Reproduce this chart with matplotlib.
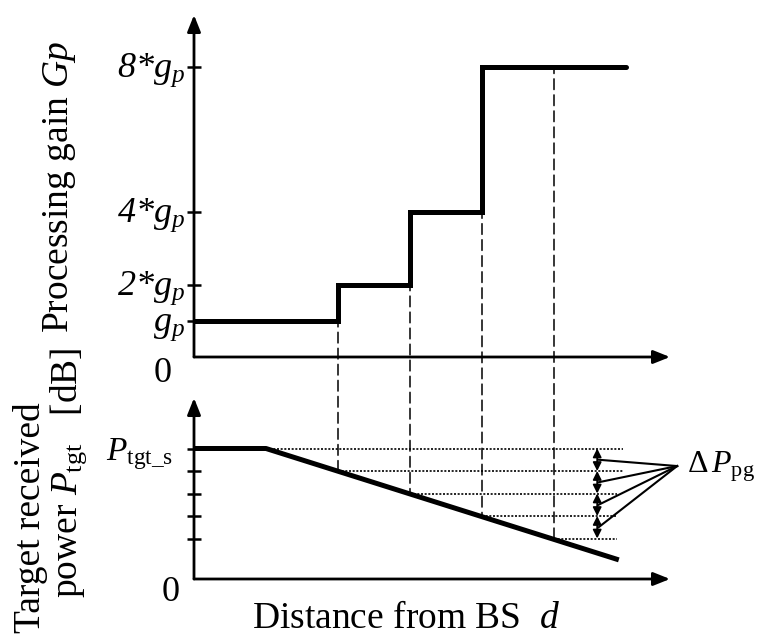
import numpy as np
import matplotlib
matplotlib.use("Agg")
import matplotlib.pyplot as plt
from matplotlib.patches import ConnectionPatch

plt.rcParams['font.family'] = ['Liberation Serif', 'DejaVu Serif']
plt.rcParams['mathtext.fontset'] = 'custom'
plt.rcParams['mathtext.rm'] = 'Liberation Serif'
plt.rcParams['mathtext.it'] = 'Liberation Serif:italic'
plt.rcParams['mathtext.bf'] = 'Liberation Serif:bold'

# ---------------- data ----------------
# top panel: processing gain staircase (units of g_p) vs distance
step_distance = [0, 2, 3, 4, 6]
step_gain = [1, 2, 4, 8, 8]
gain_ticks = [1, 2, 4, 8]
gain_tick_labels = [r'$g_p$', r'2*$g_p$', r'4*$g_p$', r'8*$g_p$']

# bottom panel: target received power vs distance
power_distance = [0, 1.0, 5.9]
power_db = [5.8, 5.8, 0.85]
power_levels = [5.8, 4.8, 3.8, 2.8, 1.8]
level_start = [1.0, 2.0, 3.0, 4.0, 5.0]
level_end = [5.96, 5.96, 5.88, 5.88, 5.88]

# switching distances (dashed guides) and gain just before each switch
switch_distance = [2, 3, 4, 5]
switch_gain = [1, 2, 4, 8]

arrow_x = 5.6
label_point = (6.71, 5.02)

W, H = 757, 643
fig = plt.figure(figsize=(W / 100, H / 100), dpi=100)

def rect(x0, y0, x1, y1):
    return [x0 / W, 1 - y1 / H, (x1 - x0) / W, (y1 - y0) / H]

ax1 = fig.add_axes(rect(194, 15, 670, 357))
ax2 = fig.add_axes(rect(194, 398, 670, 579))

ax1.set_xlim(0, 476 / 72)
ax1.set_ylim(0, 342 / 36.2)
ax2.set_xlim(0, 476 / 72)
ax2.set_ylim(0, 181 / 22.5)

for ax in (ax1, ax2):
    for s in ax.spines.values():
        s.set_visible(False)
    ax.set_xticks([])
    ax.patch.set_alpha(0)
    ax.tick_params(axis='y', direction='inout', length=10, width=1.8, labelleft=False)
    ap = dict(arrowstyle='-|>,head_length=0.5,head_width=0.2', lw=2.0, color='k',
              shrinkA=0, shrinkB=0, mutation_scale=20)
    ax.annotate('', xy=(1, 0), xytext=(0, 0), xycoords='axes fraction', arrowprops=ap)
    ax.annotate('', xy=(0, 1), xytext=(0, 0), xycoords='axes fraction', arrowprops=ap)

# top staircase
ax1.step(step_distance, step_gain, where='post', color='k', lw=3.6,
         solid_joinstyle='miter', solid_capstyle='round')
ax1.set_yticks(gain_ticks)
for g, lab in zip(gain_ticks, gain_tick_labels):
    ax1.annotate(lab, xy=(0, g), xytext=(-9, -10), textcoords='offset pixels',
                 ha='right', va='baseline', fontsize=26, fontstyle='italic')
ax1.annotate('0', xy=(0, 0), xytext=(-31, -25), textcoords='offset pixels',
             ha='center', va='baseline', fontsize=26)

# bottom power curve
ax2.plot(power_distance, power_db, color='k', lw=3.6, solid_capstyle='butt')
ax2.set_yticks(power_levels)
for lv, xs, xe in zip(power_levels, level_start, level_end):
    ax2.plot([xs, xe], [lv, lv], color='k', lw=1.2, linestyle=(0, (1.2, 1.0)))
ax2.annotate(r'$P_{\mathrm{tgt\_s}}$', xy=(0, power_levels[0]), xytext=(-21, -12),
             textcoords='offset pixels', ha='right', va='baseline', fontsize=24)
ax2.annotate('0', xy=(0, 0), xytext=(-23, -22), textcoords='offset pixels',
             ha='center', va='baseline', fontsize=26)

# double arrows between levels + lines to label
for hi, lo in zip(power_levels[:-1], power_levels[1:]):
    ax2.annotate('', xy=(arrow_x, lo), xytext=(arrow_x, hi),
                 arrowprops=dict(arrowstyle='<|-|>,head_length=0.5,head_width=0.25', lw=1.3,
                                 color='k', shrinkA=0, shrinkB=0, mutation_scale=10))
    mid = (hi + lo) / 2
    ax2.plot([arrow_x + 0.02, label_point[0]], [mid, label_point[1]], color='k', lw=1.5,
             clip_on=False)
ax2.text(6.85, 4.75, r'$\Delta\,P_{\mathrm{pg}}$', fontsize=23, ha='left', va='baseline')

# dashed guides connecting the two panels
switch_power = np.interp(switch_distance, power_distance, power_db)
for xd, g, p in zip(switch_distance, switch_gain, switch_power):
    con = ConnectionPatch(xyA=(xd, g), coordsA=ax1.transData, xyB=(xd, p), coordsB=ax2.transData,
                          color='k', lw=1.1, linestyle=(3, (7, 3.5)))
    fig.add_artist(con)

# axis labels
fig.text(68 / W, 1 - 333 / H, r'Processing gain $Gp$', rotation=90, rotation_mode='anchor',
         ha='left', va='baseline', fontsize=27)
fig.text(40 / W, 1 - 633 / H, 'Target received', rotation=90, rotation_mode='anchor',
         ha='left', va='baseline', fontsize=27)
fig.text(77 / W, 1 - 598 / H, r'power $P_{\mathrm{tgt}}$   [dB]', rotation=90,
         rotation_mode='anchor', ha='left', va='baseline', fontsize=27)
fig.text(252 / W, 1 - 628 / H, r'Distance from BS  $d$', ha='left', va='baseline', fontsize=27)

fig.savefig('out.png', dpi=100)
